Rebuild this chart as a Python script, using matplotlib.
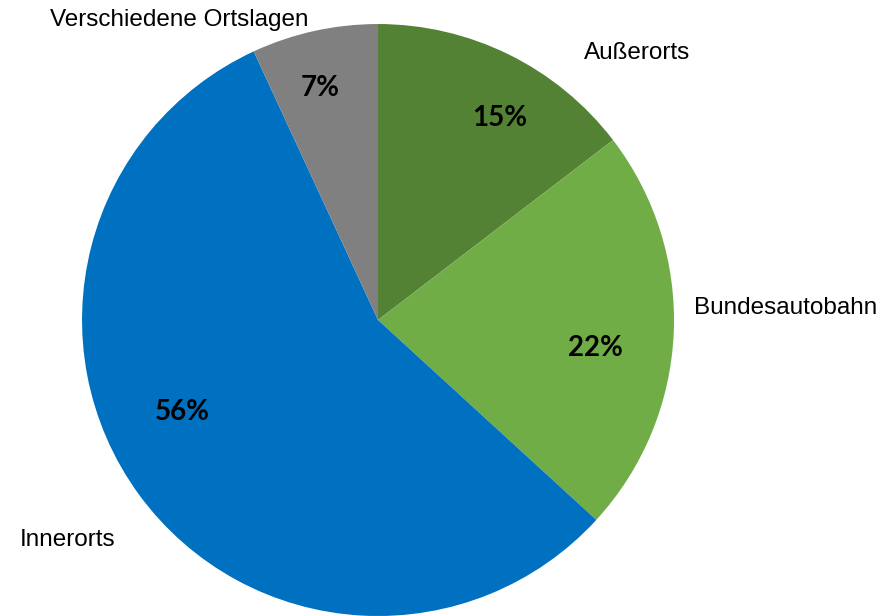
import matplotlib
matplotlib.use("Agg")
import matplotlib.pyplot as plt

categories = ['Außerorts', 'Bundesautobahn', 'Innerorts', 'Verschiedene Ortslagen']
shares = [14.6, 22.2, 56.3, 6.9]
colors = ['#548235', '#70AD47', '#0070C0', '#808080']

# label positions in pie units (radius = 1)
name_pos = [(0.875, 0.902), (1.378, 0.04), (-1.05, -0.743), (-0.672, 1.014)]
pct_pos = [(0.412, 0.682), (0.733, -0.095), (-0.662, -0.311), (-0.196, 0.784)]

fig = plt.figure(figsize=(8.79, 6.16), dpi=100)
ax = fig.add_axes([0.0933, 0.0, 0.6735, 0.961])
ax.pie(shares, colors=colors, startangle=90, counterclock=False, radius=1,
       wedgeprops=dict(linewidth=0))
ax.set_xlim(-1, 1)
ax.set_ylim(-1, 1)
ax.set_aspect('equal')
ax.axis('off')

for name, (x, y) in zip(categories, name_pos):
    ax.text(x, y, name, ha='center', va='center', fontsize=17.5,
            family='Liberation Sans', clip_on=False)
for val, (x, y) in zip(shares, pct_pos):
    ax.text(x, y, f'{val:.0f}%', ha='center', va='center', fontsize=20,
            fontweight='bold', family='Lato', clip_on=False)

fig.savefig('out.png', dpi=100)
